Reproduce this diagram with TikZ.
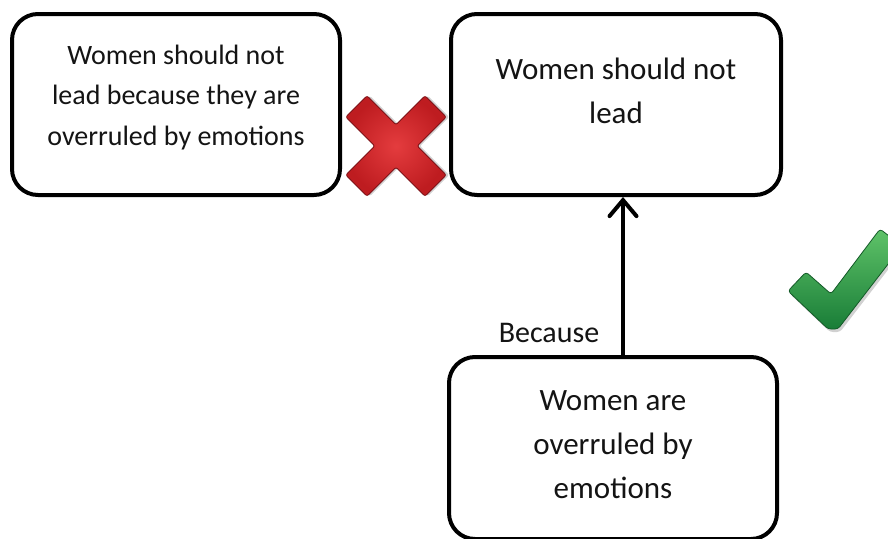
\documentclass[tikz,border=0pt]{standalone}
\usepackage{fontspec}
\setmainfont{Carlito}
\usetikzlibrary{arrows.meta}
\definecolor{txt}{RGB}{20,20,20}
\definecolor{xlight}{RGB}{228,60,62}
\definecolor{xdark}{RGB}{190,28,32}
\definecolor{xedge}{RGB}{125,15,20}
\definecolor{glight}{RGB}{95,195,105}
\definecolor{gdark}{RGB}{25,125,55}
\definecolor{gedge}{RGB}{20,90,40}
\begin{document}
\begin{tikzpicture}[x=1pt,y=-1pt,
  box/.style={draw=black, line width=4pt, rounded corners=26pt, inner sep=0pt, fill=white},
  lbl/.style={align=center, inner sep=0pt, text=txt},
  conn/.style={line width=4pt, -{Straight Barb[length=16pt,width=27pt,line cap=round]}}]
\useasboundingbox (0,0) rectangle (888,538);
\fill[white] (0,0) rectangle (888,538);
\clip (0,0) rectangle (888,538);
% boxes
\node[box, minimum width=328pt, minimum height=181pt] (b1) at (176,104.5) {};
\node[box, minimum width=330pt, minimum height=181pt] (b2) at (616,104.5) {};
\node[box, minimum width=328pt, minimum height=182pt] (b3) at (613,448) {};
% texts
\node[lbl, font=\fontsize{28}{40.5}\selectfont] (t1) at (176,97.5) {Women should not\\lead because they are\\overruled by emotions};
\node[lbl, font=\fontsize{31}{44}\selectfont] (t2) at (616,91) {Women should not\\lead};
\node[lbl, font=\fontsize{31}{44}\selectfont] (t3) at (613,445) {Women are\\overruled by\\emotions};
\node[lbl, anchor=base, font=\fontsize{30}{36}\selectfont] (bc) at (549,342) {Because};
% connector
\draw[conn] ([xshift=10pt]b3.north) -- ([xshift=7pt]b2.south);
% red cross
\begin{scope}[shift={(396,146)}, rotate=45]
  \fill[black, opacity=0.18, rounded corners=2pt, shift={(2,2)}]
    (56,15) -- (15,15) -- (15,56) -- (-15,56) -- (-15,15) -- (-56,15) -- (-56,-15) -- (-15,-15) -- (-15,-56) -- (15,-56) -- (15,-15) -- (56,-15) -- cycle;
  \shade[inner color=xlight, outer color=xdark, draw=xedge, line width=0.8pt, rounded corners=2pt]
    (56,15) -- (15,15) -- (15,56) -- (-15,56) -- (-15,15) -- (-56,15) -- (-56,-15) -- (-15,-15) -- (-15,-56) -- (15,-56) -- (15,-15) -- (56,-15) -- cycle;
\end{scope}
% green check
\fill[black, opacity=0.18, rounded corners=3pt, shift={(2,3)}]
  (788,291) -- (806,272) -- (831,294) -- (880,229) -- (902,246) -- (838,329) -- (828,329) -- cycle;
\shade[top color=glight, bottom color=gdark, draw=gedge, line width=0.8pt, rounded corners=3pt]
  (788,291) -- (806,272) -- (831,294) -- (880,229) -- (902,246) -- (838,329) -- (828,329) -- cycle;
\end{tikzpicture}
\end{document}
